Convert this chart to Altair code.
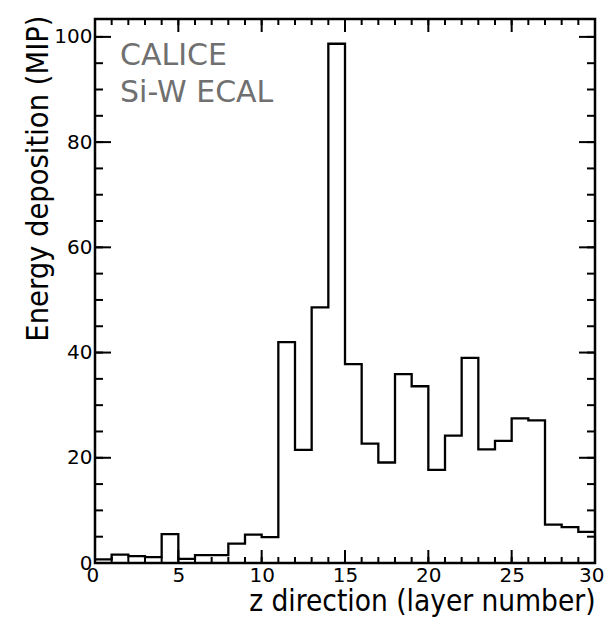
import altair as alt
import pandas as pd

# ---- data ----
bin_edges = list(range(31))  # layer edges 0..30
energy = [0.7, 1.6, 1.3, 1.1, 5.5, 0.8, 1.5, 1.5, 3.7, 5.4,
          4.9, 42.0, 21.5, 48.6, 98.7, 37.8, 22.7, 19.1, 35.9, 33.6,
          17.7, 24.2, 39.0, 21.6, 23.2, 27.5, 27.1, 7.3, 6.8, 5.9]
x_major = [0, 5, 10, 15, 20, 25, 30]
x_minor = list(range(0, 31))
y_major = [0, 20, 40, 60, 80, 100]
y_minor = list(range(0, 101, 5))
note_text = ["CALICE", "Si-W ECAL"]
note_x = [1.5, 1.5]
note_y = [94.6, 87.6]

W, H = 500, 544
XMAX, YMAX = 30, 103.4
FONT = "DejaVu Sans Condensed, DejaVu Sans"
LFONT = "DejaVu Sans"

hist = pd.DataFrame({"layer": bin_edges, "energy": energy + [energy[-1]]})
xs = alt.Scale(domain=[0, XMAX], nice=False, zero=False)
ys = alt.Scale(domain=[0, YMAX], nice=False, zero=False)

# inward tick marks on all four sides (lengths in pixels, converted to data units)
px_x = XMAX / W
px_y = YMAX / H
rows = []
for vals, ln in ((x_minor, 6), (x_major, 13)):
    for v in vals:
        rows.append({"layer": v, "layer2": v, "energy": 0, "energy2": ln * px_y})
        rows.append({"layer": v, "layer2": v, "energy": YMAX, "energy2": YMAX - ln * px_y})
for vals, ln in ((y_minor, 8), (y_major, 16)):
    for v in vals:
        rows.append({"layer": 0, "layer2": ln * px_x, "energy": v, "energy2": v})
        rows.append({"layer": XMAX, "layer2": XMAX - ln * px_x, "energy": v, "energy2": v})
ticks_df = pd.DataFrame(rows)

line = alt.Chart(hist).mark_line(
    interpolate="step-after", color="black", strokeWidth=2.3
).encode(
    x=alt.X("layer:Q", scale=xs, axis=alt.Axis(
        values=x_major, ticks=False, domain=False, grid=False,
        labelFontSize=20, labelPadding=2, labelColor="black", labelFont=LFONT,
        labelFlush=True, labelFlushOffset=9, format="d",
        title="z direction (layer number)", titleFontSize=29.5, titleFont=FONT,
        titleFontWeight="normal", titleColor="black", titleAlign="right",
        titleBaseline="alphabetic", titleX=W, titleY=47, titleAngle=0)),
    y=alt.Y("energy:Q", scale=ys, axis=alt.Axis(
        values=y_major, ticks=False, domain=False, grid=False,
        labelFontSize=20, labelPadding=3, labelColor="black", labelFont=LFONT,
        labelFlush=False, format="d",
        title="Energy deposition (MIP)", titleFontSize=30.5, titleFont=FONT,
        titleFontWeight="normal", titleColor="black", titleAngle=270,
        titleAlign="right", titleBaseline="alphabetic", titleX=-48, titleY=-4)),
)

ticks = alt.Chart(ticks_df).mark_rule(color="black", strokeWidth=2).encode(
    x=alt.X("layer:Q", scale=xs),
    x2="layer2:Q",
    y=alt.Y("energy:Q", scale=ys),
    y2="energy2:Q",
)

notes = alt.Chart(pd.DataFrame({"layer": note_x, "energy": note_y, "t": note_text})).mark_text(
    align="left", baseline="alphabetic", fontSize=30, font=LFONT, color="#707070"
).encode(
    x=alt.X("layer:Q", scale=xs),
    y=alt.Y("energy:Q", scale=ys),
    text="t:N",
)

chart = alt.layer(line, ticks, notes).properties(
    width=W, height=H,
    autosize=alt.AutoSizeParams(type="none"),
    padding={"left": 95, "top": 19, "right": 11, "bottom": 67},
    background="white",
).configure_view(stroke="black", strokeWidth=2.5)

chart.save("out.html", embed_options={"renderer": "svg", "actions": False})
